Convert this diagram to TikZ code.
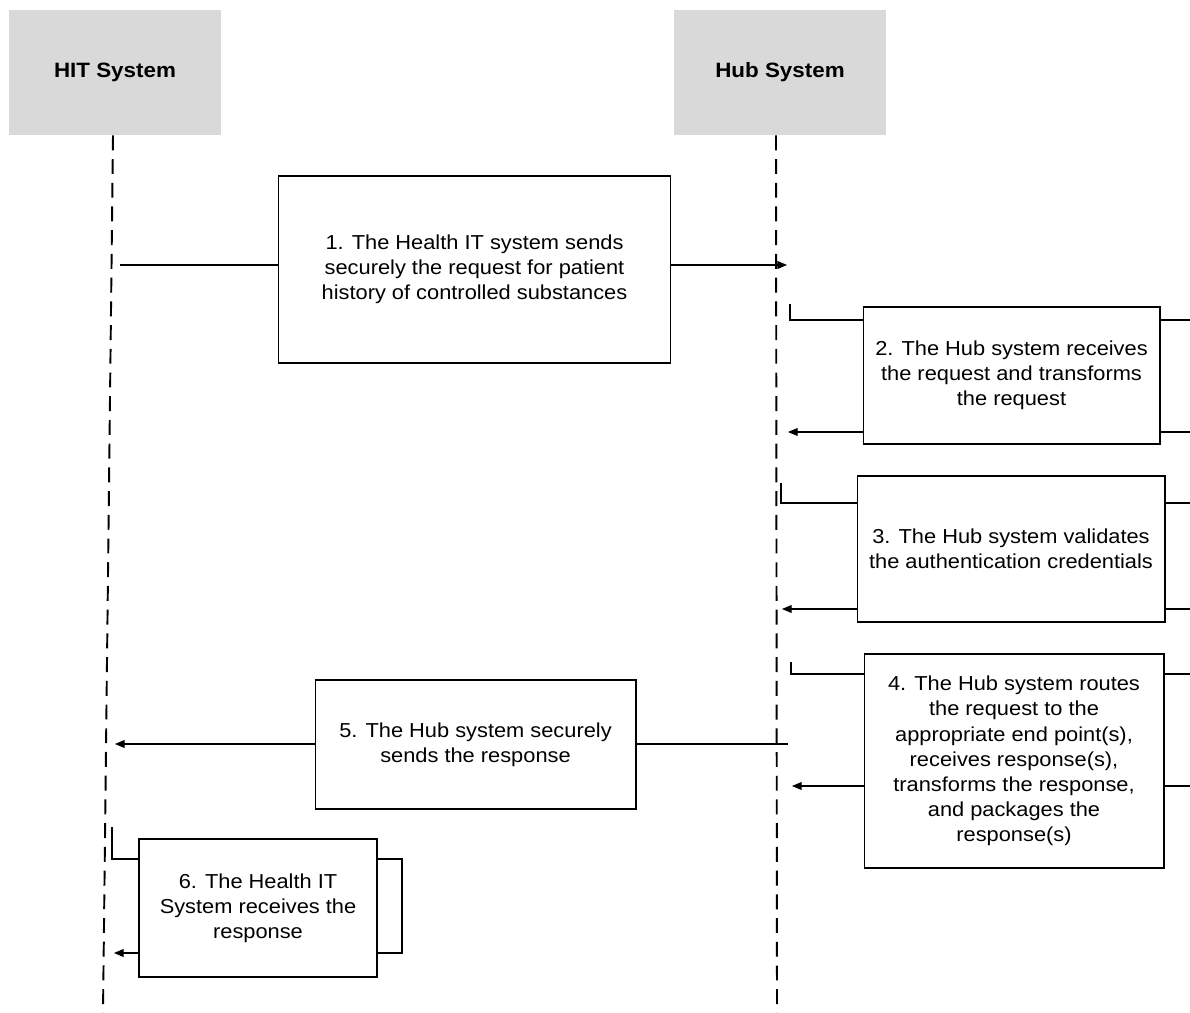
\documentclass[tikz,border=0pt]{standalone}
\usepackage{fontspec}
\setmainfont{Liberation Sans}[FakeStretch=1.08]
\usetikzlibrary{arrows.meta}
\definecolor{headgray}{HTML}{D9D9D9}

\begin{document}
\begin{tikzpicture}[x=0.02cm, y=-0.02cm,
      inner sep=0pt, font=\fontsize{11.5}{14.3}\selectfont,
      head/.style={rectangle, fill=headgray, minimum width=4.24cm,
        minimum height=2.5cm, font=\fontsize{11.8}{14}\selectfont\bfseries},
      stepbox/.style={rectangle, draw, line width=0.6pt, align=center},
      lifeline/.style={line width=1.1pt, dash pattern=on 8.5pt off 5pt},
      msg/.style={line width=0.6pt},
      tip/.style={-{Triangle[length=5.5pt,width=4.5pt]}}]
      \useasboundingbox (0,0) rectangle (1190,1013);
      % headers and lifelines
      \node[head](hit) at (115,72.5) {HIT System};
      \node[head](hub) at (780,72.5) {Hub System};
      \coordinate (hit_end) at (103,1013);
      \coordinate (hub_end) at (777,1013);
      \draw[lifeline] (hit.south -| 113,0) -- (hit_end);
      \draw[lifeline] (hub.south -| 776,0) -- (hub_end);
      % 1. request hit -> hub
      \node[stepbox, minimum width=7.86cm, minimum height=3.74cm](m_1) at (474.5,269.5)
        {1. The Health IT system sends\\securely the request for patient\\history of controlled substances};
      \coordinate (r_1) at (120,265);
      \coordinate (h_1) at (787,265);
      \draw[msg] (r_1) -- (r_1 -| m_1.west);
      \draw[msg, tip] (r_1 -| m_1.east) -- (h_1);
      % 2. receive and transform
      \node[stepbox, minimum width=5.94cm, minimum height=2.74cm](m_2) at (1011.5,375.5)
        {2. The Hub system receives\\the request and transforms\\the request};
      \coordinate (t_2) at (790,304);
      \coordinate (o_2) at (1190,320);
      \coordinate (b_2) at (1190,432);
      \coordinate (h_2) at (788,432);
      \draw[msg] (t_2) |- (o_2 -| m_2.west);
      \draw[msg] (m_2.east |- o_2) -- (o_2);
      \draw[msg] (b_2) -- (m_2.east |- b_2);
      \draw[msg, tip] (m_2.west |- b_2) -- (h_2);
      % 3. validate
      \node[stepbox, minimum width=6.16cm, minimum height=2.92cm](m_3) at (1011,549)
        {3. The Hub system validates\\the authentication credentials};
      \coordinate (t_3) at (781,483);
      \coordinate (o_3) at (1190,503);
      \coordinate (b_3) at (1190,609);
      \coordinate (h_3) at (782,609);
      \draw[msg] (t_3) |- (o_3 -| m_3.west);
      \draw[msg] (m_3.east |- o_3) -- (o_3);
      \draw[msg] (b_3) -- (m_3.east |- b_3);
      \draw[msg, tip] (m_3.west |- b_3) -- (h_3);
      % 4. route
      \node[stepbox, minimum width=6.0cm, minimum height=4.28cm](m_4) at (1014,761)
        {4. The Hub system routes\\the request to the\\appropriate end point(s),\\receives response(s),\\transforms the response,\\and packages the\\response(s)};
      \coordinate (t_4) at (791,662);
      \coordinate (o_4) at (1190,674);
      \coordinate (b_4) at (1190,786);
      \coordinate (h_4) at (792,786);
      \draw[msg] (t_4) |- (o_4 -| m_4.west);
      \draw[msg] (m_4.east |- o_4) -- (o_4);
      \draw[msg] (b_4) -- (m_4.east |- b_4);
      \draw[msg, tip] (m_4.west |- b_4) -- (h_4);
      % 5. response hub -> hit
      \node[stepbox, minimum width=6.42cm, minimum height=2.58cm](m_5) at (475.5,744.5)
        {5. The Hub system securely\\sends the response};
      \coordinate (r_5) at (788,744);
      \coordinate (h_5) at (115,744);
      \draw[msg] (r_5) -- (r_5 -| m_5.east);
      \draw[msg, tip] (r_5 -| m_5.west) -- (h_5);
      % 6. receive
      \node[stepbox, minimum width=4.76cm, minimum height=2.76cm](m_6) at (258,908)
        {6. The Health IT\\System receives the\\response};
      \coordinate (t_6) at (112,827);
      \coordinate (o_6) at (402,859);
      \coordinate (h_6) at (114,953);
      \draw[msg] (t_6) |- (o_6 -| m_6.west);
      \draw[msg] (m_6.east |- o_6) -- (o_6) |- (m_6.east |- h_6);
      \draw[msg, tip] (m_6.west |- h_6) -- (h_6);
\end{tikzpicture}
\end{document}
